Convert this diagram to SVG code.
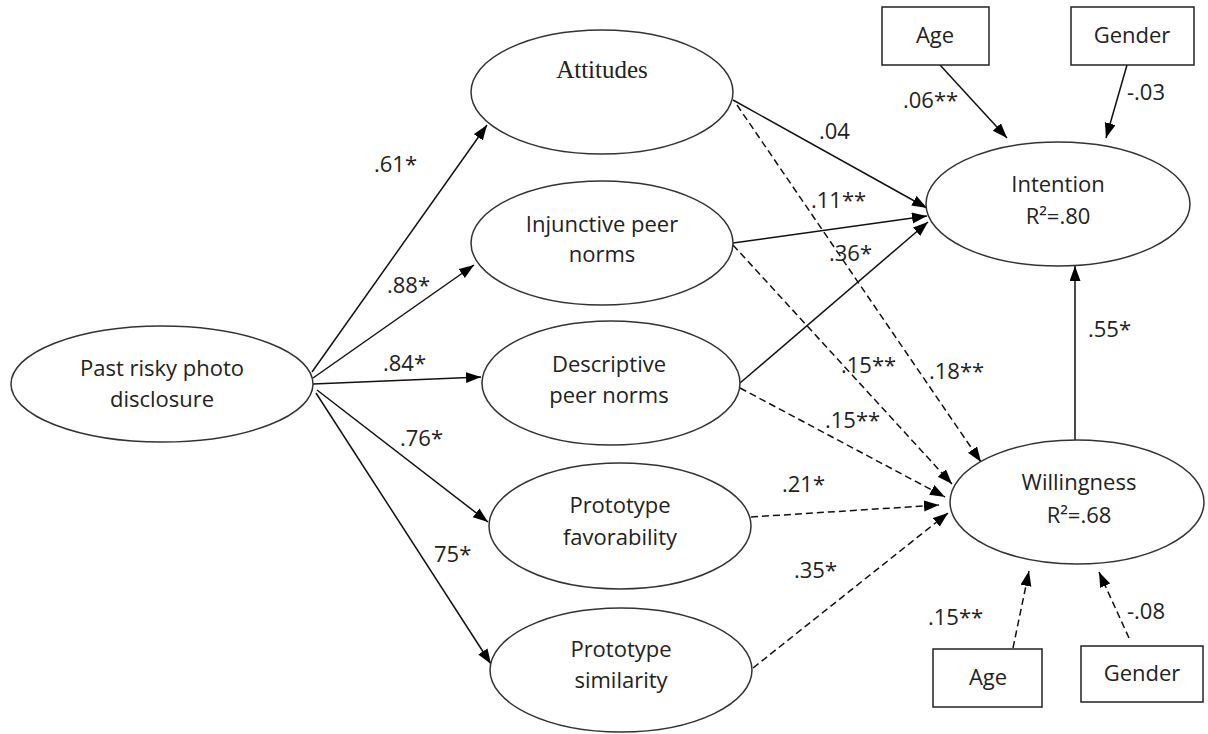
<svg xmlns="http://www.w3.org/2000/svg" width="1208" height="734" viewBox="0 0 1208 734">
<defs>
<marker id="ah" markerUnits="userSpaceOnUse" markerWidth="16" markerHeight="12" refX="15" refY="5.5" orient="auto">
<path d="M0,0 L15,5.5 L0,11 z" fill="#000"/>
</marker>
<style>
.n ellipse{fill:#fff;stroke:#333;stroke-width:1.5}
.n rect{fill:#fff;stroke:#222;stroke-width:1.5}
text{font-family:"Open Sans","DejaVu Sans",sans-serif;font-size:22px;fill:#222;text-anchor:middle}
.serif{font-family:"Liberation Serif","Times New Roman",serif;font-size:25px}
.lbl{text-anchor:start}
#connectors line{stroke:#111;stroke-width:1.5;fill:none;marker-end:url(#ah)}
#connectors line.d{stroke-dasharray:7 4}
</style>
</defs>
<rect width="1208" height="734" fill="#fff"/>
<g id="connectors">
<line x1="312" y1="372" x2="487" y2="125"/>
<line x1="313" y1="378" x2="474" y2="265"/>
<line x1="313" y1="384" x2="481" y2="377"/>
<line x1="317" y1="390" x2="488" y2="522"/>
<line x1="316" y1="393" x2="491" y2="664"/>
<line x1="733" y1="100" x2="927" y2="208"/>
<line x1="733" y1="243" x2="927" y2="216"/>
<line x1="740" y1="383" x2="928" y2="222"/>
<line class="d" x1="737" y1="105" x2="981" y2="462"/>
<line class="d" x1="733" y1="245" x2="952" y2="484"/>
<line class="d" x1="740" y1="388" x2="945" y2="497"/>
<line class="d" x1="751" y1="517" x2="939" y2="505"/>
<line class="d" x1="753" y1="668" x2="948" y2="513"/>
<line x1="1075" y1="440" x2="1075" y2="266"/>
<line x1="940" y1="65" x2="1007" y2="138"/>
<line x1="1127" y1="65" x2="1106" y2="138"/>
<line class="d" x1="1013" y1="648" x2="1029" y2="571"/>
<line class="d" x1="1129" y1="638" x2="1099" y2="572"/>
</g>
<g id="labels">
<text class="lbl" x="374" y="172">.61*</text>
<text class="lbl" x="387" y="293">.88*</text>
<text class="lbl" x="383" y="371">.84*</text>
<text class="lbl" x="400" y="446">.76*</text>
<text class="lbl" x="434" y="562">75*</text>
<text class="lbl" x="819" y="139">.04</text>
<text class="lbl" x="811" y="208">.11**</text>
<text class="lbl" x="829" y="261">.36*</text>
<text class="lbl" x="841" y="373">.15**</text>
<text class="lbl" x="929" y="379">.18**</text>
<text class="lbl" x="825" y="428">.15**</text>
<text class="lbl" x="782" y="492">.21*</text>
<text class="lbl" x="794" y="578">.35*</text>
<text class="lbl" x="1088" y="337">.55*</text>
<text class="lbl" x="903" y="108">.06**</text>
<text class="lbl" x="1127" y="100">-.03</text>
<text class="lbl" x="928" y="625">.15**</text>
<text class="lbl" x="1127" y="619">-.08</text>
</g>
<g id="past" class="n"><ellipse cx="162" cy="384" rx="151" ry="58"/><text x="162" y="376">Past risky photo</text><text x="162" y="407">disclosure</text></g>
<g id="attitudes" class="n"><ellipse cx="602" cy="92" rx="131" ry="62"/><text class="serif" x="602" y="78">Attitudes</text></g>
<g id="injunctive" class="n"><ellipse cx="602" cy="243" rx="131" ry="62"/><text x="602" y="232">Injunctive peer</text><text x="602" y="262">norms</text></g>
<g id="descriptive" class="n"><ellipse cx="611" cy="383" rx="129" ry="62"/><text x="609" y="372">Descriptive</text><text x="609" y="403">peer norms</text></g>
<g id="favorability" class="n"><ellipse cx="620" cy="526" rx="131" ry="63"/><text x="620" y="513">Prototype</text><text x="620" y="545">favorability</text></g>
<g id="similarity" class="n"><ellipse cx="621" cy="670" rx="131" ry="62"/><text x="621" y="657">Prototype</text><text x="621" y="688">similarity</text></g>
<g id="intention" class="n"><ellipse cx="1058" cy="204" rx="132" ry="62"/><text x="1058" y="192">Intention</text><text x="1058" y="224">R²=.80</text></g>
<g id="willingness" class="n"><ellipse cx="1077" cy="502" rx="127" ry="62"/><text x="1079" y="490">Willingness</text><text x="1079" y="523">R²=.68</text></g>
<g id="age-top" class="n"><rect x="882" y="7" width="107" height="58"/><text x="935" y="43">Age</text></g>
<g id="gender-top" class="n"><rect x="1071" y="7" width="123" height="58"/><text x="1132" y="43">Gender</text></g>
<g id="age-bottom" class="n"><rect x="933" y="649" width="109" height="58"/><text x="988" y="685">Age</text></g>
<g id="gender-bottom" class="n"><rect x="1081" y="646" width="122" height="56"/><text x="1142" y="681">Gender</text></g>
</svg>
